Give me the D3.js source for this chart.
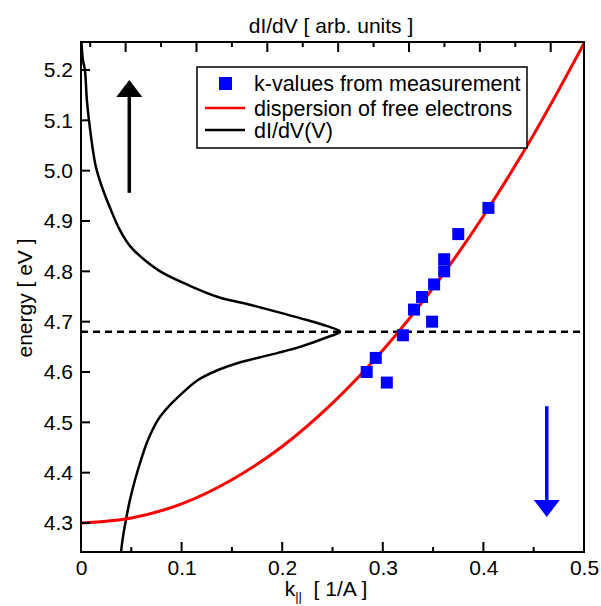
<html>
<head>
<script src="https://cdn.jsdelivr.net/npm/d3@7"></script>
</head>
<body style="margin:0;background:#fff">
<style>
  text { font-family: "Liberation Sans", Arial, sans-serif; fill: #000; }
  .axis path { display: none; }
  .axis text { font-size: 21px; font-family: "Liberation Sans", Arial, sans-serif; }
</style>
<svg width="601" height="606" id="chart"></svg>
<script>
// axis ticks
var kTicks = [0, 0.1, 0.2, 0.3, 0.4, 0.5];
var kMinor = [0.05, 0.15, 0.25, 0.35, 0.45];
var energyTicks = [4.3, 4.4, 4.5, 4.6, 4.7, 4.8, 4.9, 5.0, 5.1, 5.2];
var didvTicks = [1, 2, 3, 4, 5, 6, 7];
var didvMinor = [0.5, 1.5, 2.5, 3.5, 4.5, 5.5, 6.5];

// k-values from measurement
var measK = [0.284, 0.293, 0.304, 0.320, 0.331, 0.339, 0.349, 0.351, 0.361, 0.361, 0.375, 0.405];
var measE = [4.600, 4.628, 4.579, 4.673, 4.724, 4.749, 4.700, 4.774, 4.800, 4.824, 4.874, 4.926];

// dispersion of free electrons
var dispK = [0, 0.05, 0.1, 0.15, 0.2, 0.25, 0.3, 0.35, 0.4, 0.45, 0.5];
var dispE = [4.300, 4.310, 4.338, 4.386, 4.452, 4.538, 4.643, 4.767, 4.910, 5.072, 5.253];

// dI/dV(V) spectrum, top axis in arb. units
var didvVal = [0.376, 0.397, 0.425, 0.453, 0.482, 0.538, 0.581, 0.665, 0.792, 0.919, 1.075, 1.273,
  1.499, 1.880, 2.304, 2.770, 3.151, 3.462, 3.844, 4.028, 3.844, 3.462, 3.151, 2.586, 2.304,
  2.021, 1.739, 1.597, 1.456, 1.315, 1.216, 1.131, 1.061, 1.004, 0.962, 0.934];
var didvE = [5.256, 5.220, 5.200, 5.140, 5.101, 5.041, 5.007, 4.968, 4.922, 4.882, 4.848, 4.822,
  4.799, 4.773, 4.749, 4.733, 4.719, 4.707, 4.691, 4.680, 4.669, 4.650, 4.638, 4.618, 4.604,
  4.584, 4.550, 4.530, 4.505, 4.465, 4.425, 4.385, 4.346, 4.306, 4.272, 4.242];

// peak energy (dashed line)
var peakE = 4.68;

// arrows
var arrowK = [0.048, 0.463];
var arrowFrom = [4.956, 4.532];
var arrowTo = [5.180, 4.312];
var arrowColor = ["#000", "#0000ff"];

var legendLabels = ["k-values from measurement", "dispersion of free electrons", "dI/dV(V)"];

var svg = d3.select("#chart");
var pL = 81, pR = 584, pT = 42, pB = 552;

var x = d3.scaleLinear().domain([0, 0.5]).range([pL, pR]);
var xTop = d3.scaleLinear().domain([0.37, 7.47]).range([pL, pR]);
var y = d3.scaleLinear().domain([4.2424, 5.2556]).range([pB, pT]);

svg.append("defs").append("clipPath").attr("id", "plotclip")
  .append("rect").attr("x", pL).attr("y", pT)
  .attr("width", pR - pL).attr("height", pB - pT);

// tick labels from d3 axes
var xAxisG = svg.append("g").attr("class", "axis")
  .attr("transform", "translate(0," + pB + ")")
  .call(d3.axisBottom(x).tickValues(kTicks).tickSize(0)
    .tickFormat(function(d) { return d === 0 ? "0" : d3.format(".1f")(d); }));
xAxisG.selectAll("text").attr("y", 8).attr("dy", "0.71em");
var yAxisG = svg.append("g").attr("class", "axis")
  .attr("transform", "translate(" + pL + ",0)")
  .call(d3.axisLeft(y).tickValues(energyTicks).tickSize(0)
    .tickFormat(d3.format(".1f")));
yAxisG.selectAll("text").attr("x", -8);

var plot = svg.append("g").attr("clip-path", "url(#plotclip)");

// dashed line
plot.append("line")
  .attr("x1", x(0)).attr("x2", x(0.5))
  .attr("y1", y(peakE)).attr("y2", y(peakE))
  .style("stroke", "#000").style("stroke-width", 2.5)
  .style("stroke-dasharray", "7,5");

// dI/dV curve
var didvLine = d3.line()
  .x(function(d, i) { return xTop(didvVal[i]); })
  .y(function(d, i) { return y(didvE[i]); })
  .curve(d3.curveCatmullRom);
plot.append("path").datum(didvVal)
  .attr("d", didvLine)
  .style("fill", "none").style("stroke", "#000").style("stroke-width", 2.5);

// free electron dispersion
var dispLine = d3.line()
  .x(function(d, i) { return x(dispK[i]); })
  .y(function(d, i) { return y(dispE[i]); })
  .curve(d3.curveMonotoneX);
plot.append("path").datum(dispK)
  .attr("d", dispLine)
  .style("fill", "none").style("stroke", "#ff0000").style("stroke-width", 3);

// measured points
svg.append("g").selectAll("rect")
  .data(measK)
  .enter().append("rect")
  .attr("x", function(d) { return x(d) - 6; })
  .attr("y", function(d, i) { return y(measE[i]) - 6; })
  .attr("width", 12).attr("height", 12)
  .style("fill", "#0000ff");

// arrows
arrowK.forEach(function(k, i) {
  var ax = x(k), y0 = y(arrowFrom[i]), y1 = y(arrowTo[i]);
  var dir = y1 < y0 ? 1 : -1;
  var base = y1 + dir * 17;
  svg.append("line")
    .attr("x1", ax).attr("x2", ax).attr("y1", y0).attr("y2", base)
    .style("stroke", arrowColor[i]).style("stroke-width", 3.5);
  svg.append("path")
    .attr("d", "M" + ax + "," + y1 + "L" + (ax - 13) + "," + base + "L" + (ax + 13) + "," + base + "Z")
    .style("fill", arrowColor[i]);
});

// frame
svg.append("rect")
  .attr("x", pL).attr("y", pT)
  .attr("width", pR - pL).attr("height", pB - pT)
  .style("fill", "none").style("stroke", "#000").style("stroke-width", 2);

// tick marks, pointing inward, drawn as thin filled rects
var tk = svg.append("g").style("fill", "#000");
function vTicks(vals, scale, yEdge, len) {
  tk.append("g").selectAll("rect").data(vals).enter().append("rect")
    .attr("x", function(d) { return scale(d) - 1; })
    .attr("y", len < 0 ? yEdge + len : yEdge)
    .attr("width", 2)
    .attr("height", Math.abs(len))
    .style("fill", "#000");
}
vTicks(kTicks, x, pB, -10);
vTicks(kMinor, x, pB, -5);
vTicks(didvTicks, xTop, pT, 10);
vTicks(didvMinor, xTop, pT, 5);
tk.append("g").selectAll("rect").data(energyTicks).enter().append("rect")
  .attr("x", pL)
  .attr("y", function(d) { return y(d) - 1; })
  .attr("width", 9)
  .attr("height", 2)
  .style("fill", "#000");

// legend
var lg = svg.append("g");
lg.append("rect").attr("x", 197).attr("y", 67).attr("width", 330).attr("height", 81)
  .style("fill", "#fff").style("stroke", "#000").style("stroke-width", 1.5);
lg.append("rect").attr("x", 219).attr("y", 77).attr("width", 13).attr("height", 13)
  .style("fill", "#0000ff");
lg.append("line").attr("x1", 205).attr("x2", 245).attr("y1", 108).attr("y2", 108)
  .style("stroke", "#ff0000").style("stroke-width", 2.5);
lg.append("line").attr("x1", 205).attr("x2", 245).attr("y1", 130).attr("y2", 130)
  .style("stroke", "#000").style("stroke-width", 2.5);
lg.selectAll("text.lab").data(legendLabels).enter().append("text")
  .attr("class", "lab")
  .attr("x", 254)
  .attr("y", function(d, i) { return [91, 116, 138][i]; })
  .style("font-size", "21.5px")
  .text(function(d) { return d; });

// axis titles
svg.append("text").attr("x", 331).attr("y", 33).attr("text-anchor", "middle")
  .style("font-size", "21px").text("dI/dV [ arb. units ]");

var xl = svg.append("text").attr("x", 326).attr("y", 596).attr("text-anchor", "middle")
  .style("font-size", "21px").attr("xml:space", "preserve");
xl.append("tspan").text("k");
xl.append("tspan").attr("dy", 5).style("font-size", "13px").text("||");
xl.append("tspan").attr("dy", -5).text("  [ 1/A ]");

svg.append("text")
  .attr("transform", "translate(32,298) rotate(-90)")
  .attr("text-anchor", "middle")
  .style("font-size", "21px").text("energy [ eV ]");
</script>
</body>
</html>
